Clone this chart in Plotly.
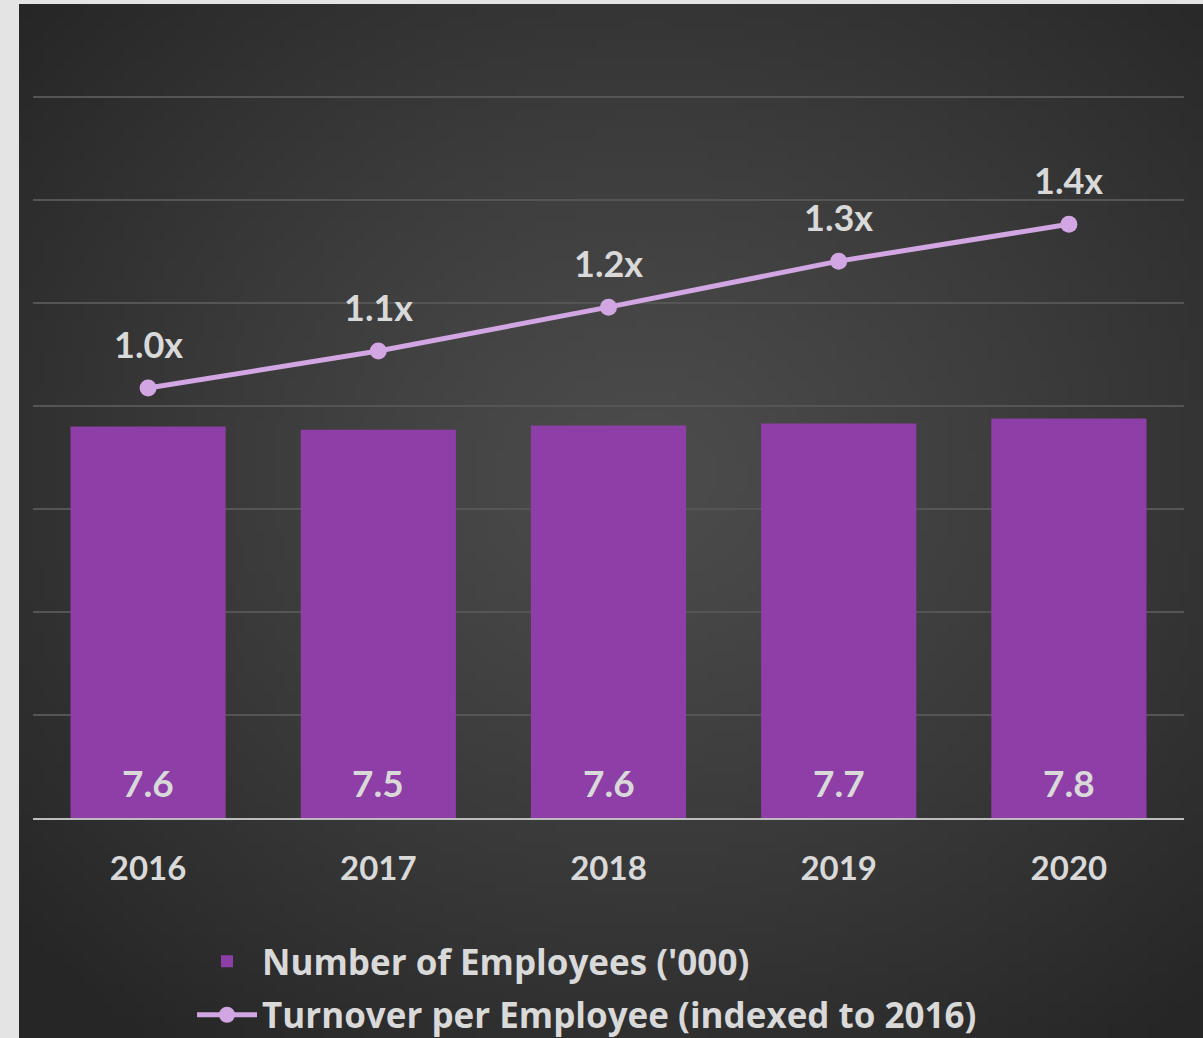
import plotly.graph_objects as go
import zlib, struct, base64, math

# ---- data ----
years = ["2016", "2017", "2018", "2019", "2020"]
employees = [7.60, 7.54, 7.62, 7.66, 7.76]          # '000
turnover_index = [1.00, 1.086, 1.188, 1.295, 1.381]  # indexed to 2016

W, H = 1203, 1038
L, R, T, B = 33, 19, 96, 220
pw, ph = W - L - R, H - T - B

# ---- radial gradient background as PNG ----
def make_png(w, h, fn):
    rows = []
    for j in range(h):
        row = bytearray([0])
        for i in range(w):
            v = fn(i, j)
            row += bytes((v, v, v))
        rows.append(bytes(row))
    raw = b"".join(rows)
    def chunk(t, d):
        return struct.pack(">I", len(d)) + t + d + struct.pack(">I", zlib.crc32(t + d) & 0xffffffff)
    return (b"\x89PNG\r\n\x1a\n" + chunk(b"IHDR", struct.pack(">IIBBBBB", w, h, 8, 2, 0, 0, 0))
            + chunk(b"IDAT", zlib.compress(raw)) + chunk(b"IEND", b""))

gw, gh = 118, 103
def grad(i, j):
    x = 19 + i * (W - 19) / gw
    y = 4 + j * (H - 4) / gh
    d = math.sqrt(((x - 640) / 820) ** 2 + ((y - 470) / 720) ** 2)
    d = min(d, 1.0)
    return int(round(76 - 38 * d ** 1.15))

img = "data:image/png;base64," + base64.b64encode(make_png(gw, gh, grad)).decode()

font_fam = "Lato"
txt_col = "#d9d9d9"

fig = go.Figure()
fig.add_trace(go.Bar(
    x=years, y=employees, name="Number of Employees ('000)",
    marker=dict(color="#8e3ea7", line=dict(width=0)),
    legendgroup="a", hoverinfo="skip",
))
fig.add_trace(go.Scatter(
    x=years, y=turnover_index, name="Turnover per Employee (indexed to 2016)",
    mode="lines+markers", yaxis="y2",
    line=dict(color="#d2a5e3", width=5),
    marker=dict(color="#d2a5e3", size=17),
    legendgroup="b", hoverinfo="skip",
))

annotations = []
for i, v in enumerate(employees):
    annotations.append(dict(x=i, y=0, xref="x", yref="y", text=f"{v:.1f}",
                            showarrow=False, yanchor="middle", yshift=36,
                            font=dict(family=font_fam, size=37, color=txt_col, weight="bold")))
for i, v in enumerate(turnover_index):
    annotations.append(dict(x=i, y=v, xref="x", yref="y2", text=f"{v:.1f}x",
                            showarrow=False, yanchor="middle", yshift=44,
                            font=dict(family=font_fam, size=36, color=txt_col, weight="bold")))

fig.update_layout(
    width=W, height=H,
    margin=dict(l=L, r=R, t=T, b=B, autoexpand=False),
    paper_bgcolor="#e4e4e4",
    plot_bgcolor="rgba(0,0,0,0)",
    bargap=0.326,
    showlegend=True,
    legend=dict(
        xref="container", yref="container",
        x=192 / W, y=1 - 932 / H, xanchor="left", yanchor="top",
        bgcolor="rgba(0,0,0,0)",
        font=dict(family="Open Sans", size=35, color=txt_col, weight="bold"),
        tracegroupgap=5, itemwidth=60,
    ),
    xaxis=dict(
        type="category", categoryorder="array", categoryarray=years,
        range=[-0.5, len(years) - 0.5],
        showgrid=False, zeroline=False,
        showline=True, linecolor="#bdbdbd", linewidth=2,
        ticks="", ticklabelstandoff=20,
        tickfont=dict(family=font_fam, size=33, color=txt_col, weight="bold"),
    ),
    yaxis=dict(
        range=[0, 14.02], tickvals=[2, 4, 6, 8, 10, 12, 14], showticklabels=False,
        showgrid=True, gridcolor="#555555", gridwidth=2, zeroline=False,
    ),
    yaxis2=dict(
        range=[0, 722 / 430], overlaying="y", side="right",
        showgrid=False, showticklabels=False, zeroline=False,
    ),
    annotations=annotations,
    images=[dict(
        source=img, xref="paper", yref="paper",
        x=(19 - L) / pw, y=(H - B - 4) / ph,
        sizex=(W - 19) / pw, sizey=(H - 4) / ph,
        xanchor="left", yanchor="top", sizing="stretch", layer="below",
    )],
)

fig.write_html("out.html")
